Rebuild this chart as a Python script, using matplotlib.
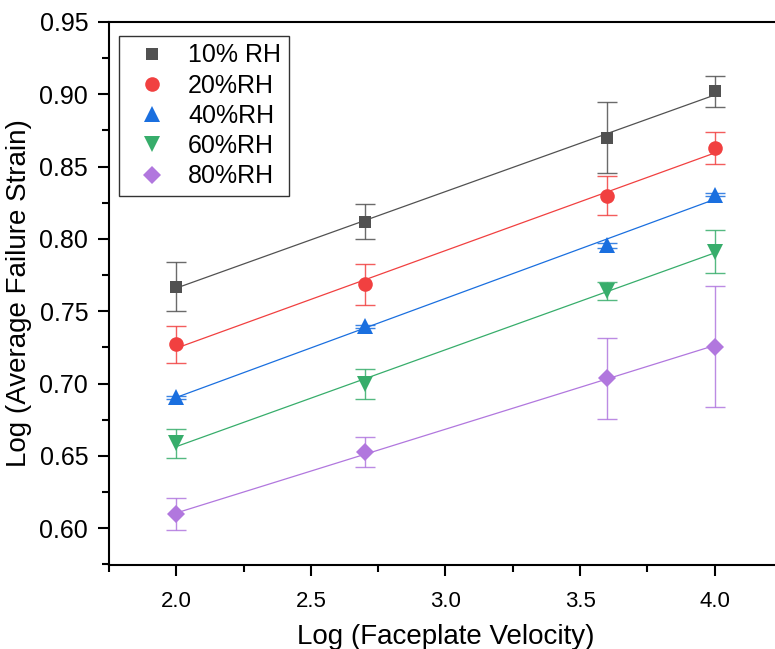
import numpy as np
import matplotlib
matplotlib.use("Agg")
import matplotlib.pyplot as plt
from matplotlib.ticker import MultipleLocator, FormatStrFormatter

plt.rcParams['font.family'] = ['Liberation Sans', 'DejaVu Sans']

x = [2.0, 2.7, 3.6, 4.0]
labels = ["10% RH", "20%RH", "40%RH", "60%RH", "80%RH"]
y10 = [0.767, 0.812, 0.870, 0.902]
e10 = [0.017, 0.012, 0.0245, 0.0107]
y20 = [0.727, 0.7686, 0.8297, 0.8627]
e20 = [0.0125, 0.014, 0.0135, 0.011]
y40 = [0.6905, 0.7395, 0.7955, 0.8305]
e40 = [0.001, 0.001, 0.002, 0.001]
y60 = [0.6586, 0.6997, 0.764, 0.7912]
e60 = [0.010, 0.0105, 0.006, 0.0148]
y80 = [0.6095, 0.6524, 0.7036, 0.7255]
e80 = [0.011, 0.0104, 0.028, 0.0417]

series = [y10, y20, y40, y60, y80]
errors = [e10, e20, e40, e60, e80]
colors = ['#515151', '#F14040', '#1A6FDF', '#37AD6B', '#B177DE']
markers = ['s', 'o', '^', 'v', 'D']
msizes = [9, 10.5, 11, 11, 9]

fig = plt.figure(figsize=(7.75, 6.49), dpi=100)
ax = fig.add_axes([109/775, (649-565)/649, (782-109)/775, (565-22)/649])

xa = np.array(x)
for ys, es, c, m, ms, lab in zip(series, errors, colors, markers, msizes, labels):
    ya = np.array(ys)
    k, b = np.polyfit(xa, ya, 1)
    xf = np.array([xa.min(), xa.max()])
    ax.plot(xf, k * xf + b, color=c, lw=0.9, zorder=2)
    ax.errorbar(xa, ya, yerr=es, fmt='none', ecolor=c, elinewidth=1.0,
                capsize=7, capthick=1.0, alpha=0.85, zorder=3)
    ax.plot(xa, ya, linestyle='none', marker=m, markersize=ms, color=c,
            markeredgewidth=0, label=lab, zorder=4)

ax.set_xlim(1.75, 4.25)
ax.set_ylim(0.5745, 0.95)
ax.xaxis.set_major_locator(MultipleLocator(0.5))
ax.xaxis.set_minor_locator(MultipleLocator(0.25))
ax.yaxis.set_major_locator(MultipleLocator(0.05))
ax.yaxis.set_minor_locator(MultipleLocator(0.025))
ax.xaxis.set_major_formatter(FormatStrFormatter('%.1f'))
ax.yaxis.set_major_formatter(FormatStrFormatter('%.2f'))
ax.tick_params(which='both', direction='out', width=1.5)
ax.tick_params(which='major', length=8)
ax.tick_params(which='minor', length=5)
ax.tick_params(axis='x', which='major', labelsize=16, pad=11)
ax.tick_params(axis='y', which='major', labelsize=18, pad=7)
for s in ax.spines.values():
    s.set_linewidth(1.5)
ax.spines['right'].set_visible(False)

ax.set_xlabel('Log (Faceplate Velocity)', fontsize=20, labelpad=8)
ax.set_ylabel('Log (Average Failure Strain)', fontsize=20, labelpad=5)

leg = ax.legend(loc='upper left', bbox_to_anchor=(0.0149, 0.9745), fontsize=18,
                frameon=True, fancybox=False, edgecolor='black',
                handletextpad=0.42, borderpad=0.3, labelspacing=0.25,
                handlelength=2.04, borderaxespad=0)
leg.get_frame().set_linewidth(1.0)

fig.savefig('out.png', dpi=100)
